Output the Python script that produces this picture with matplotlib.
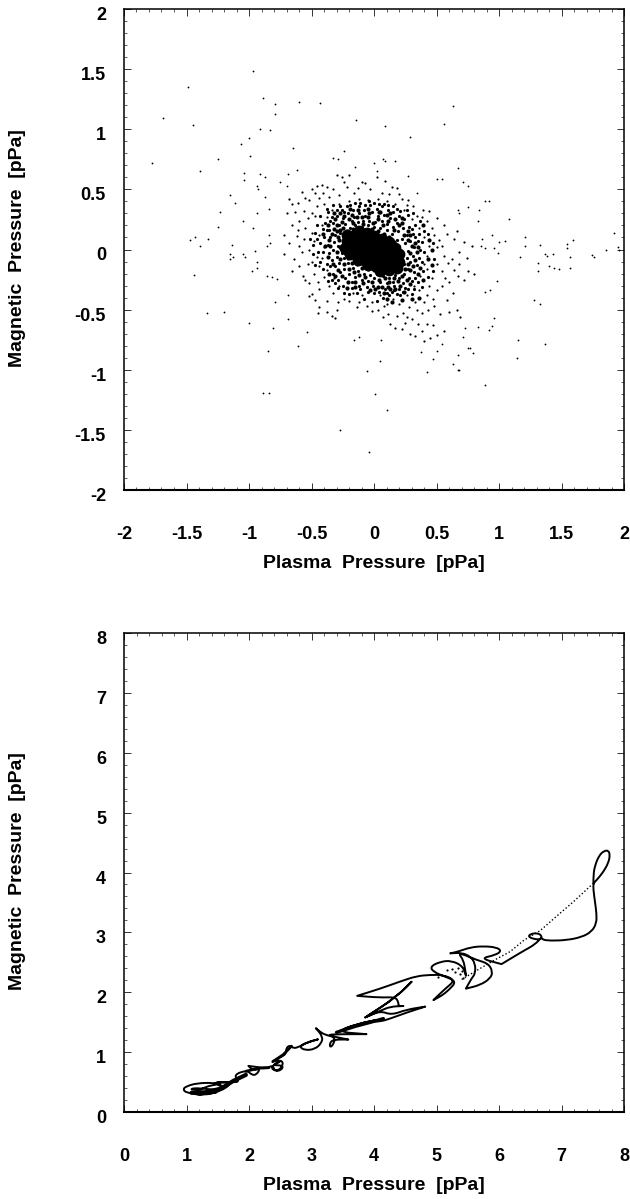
import matplotlib
matplotlib.use('Agg')
import matplotlib.pyplot as plt
from matplotlib.path import Path
from matplotlib.patches import PathPatch
from matplotlib.ticker import MultipleLocator
from matplotlib.transforms import ScaledTranslation

# scatter panel (plasma, magnetic) in pPa
outer_points = [
 (-.965,1.487),(-1.486,1.348),(-1.688,1.09),(-1.447,1.037),(-1.775,.723),(-.89,1.256),(-.79,1.21),(-.795,1.126),
 (-.6,1.23),(-.435,1.22),(-.143,1.08),(.628,1.194),(.557,1.04),(.09,1.03),(.284,.936),(-.91,1.0),(-.83,.99),
 (-1.0,.93),(-1.065,.874),(-.99,.776),(-.65,.844),(-1.245,.75),(-1.39,.65),(.024,.652),(.09,.74),(.07,.755),
 (.17,.74),(0,.72),(-.15,.69),(-.24,.815),(-.33,.76),(-.29,.75),(.67,.675),(.275,.61),(.506,.59),(.54,.59),
 (.715,.56),(.75,.53),(.345,.47),(.89,.40),(.92,.40),(.75,.355),(.67,.33),(.68,.305),(.84,.33),(.83,.24),(1.08,.25),
 (1.92,.14),(1.59,.08),(1.54,.045),(1.54,.01),(1.57,-.06),(1.74,-.045),(1.76,-.065),(1.855,0),(1.95,.02),(1.96,0),
 (1.33,.04),(1.21,.1),(1.21,.03),(1.37,-.04),(1.38,-.05),(1.43,-.035),(1.165,-.065),(1.31,-.11),(1.31,-.18),
 (1.4,-.14),(1.44,-.15),(1.48,-.165),(1.57,-.155),(1.05,.07),(1.0,.06),(.94,.12),(.86,.09),(.855,.03),(.89,.015),
 (.96,.015),(.99,-.03),(.98,-.26),(.93,-.34),(.89,-.355),(.96,-.57),(.94,-.64),(.92,-.67),(.83,-.645),(.73,-.65),
 (.715,-.73),(.75,-.815),(.77,-.82),(.79,-.86),(1.15,-.75),(1.14,-.9),(1.37,-.785),(1.28,-.42),(1.33,-.45),
 (.89,-1.125),(.67,-.88),(.635,-.95),(.67,-1.0),(.68,-1.0),(.42,-1.02),(.47,-.91),(.54,-.785),(.5,-.845),(.375,-.85),
 (.05,-.93),(-.06,-1.01),(.01,-1.2),(.105,-1.335),(-.27,-1.5),(-.04,-1.68),(-.89,-1.19),(-.84,-1.19),(-.85,-.84),
 (-.61,-.805),(-.16,-.755),(-.12,-.725),(.055,-.755),(-.54,-.69),(-.805,-.65),(-1.0,-.61),(-1.2,-.52),(-1.34,-.525),
 (-.69,-.58),(-1.44,-.21),(-1.475,.075),(-1.43,.105),(-1.39,.03),(-1.33,.085),(-1.14,.04),(-1.15,-.04),(-1.15,-.08),
 (-1.13,-.06),(-1.05,-.04),(-1.03,-.06),(-.98,-.18),(-.94,-.1),(-.95,-.01),(-.94,-.15),(-.86,-.22),(-.82,-.23),
 (-.78,-.245),(-.795,-.435),(-.69,-.38),(-1.25,.19),(-1.23,.31),(-1.11,.385),(-1.15,.45),(-1.05,.24),(-.97,.18),
 (-.87,.435),(-.93,.5),(-.875,.6),(-.91,.63),(-1.04,.64),(-1.04,.58),(-.94,.53),(-.84,.34),(-.94,.3),(-.84,.12),
 (-.86,.03),(-.83,.05),(-.69,.63),(-.62,.66),(-.75,.56),(-.7,.53),
]

mid_points = [
 (-.68,.42),(-.66,.38),(-.7,.3),(-.63,.31),(-.6,.24),(-.66,.2),(-.72,.12),(-.62,.11),(-.68,.05),(-.6,.03),
 (-.72,-.04),(-.64,-.08),(-.58,-.02),(-.6,-.14),(-.66,-.18),(-.57,-.22),(-.52,-.28),(-.45,-.27),(-.44,-.33),(-.5,-.37),
 (-.52,-.39),(-.44,-.48),(-.45,-.53),(-.38,-.52),(-.34,-.55),(-.31,-.57),(-.3,-.5),(-.58,.48),(-.55,.43),(-.5,.5),
 (-.46,.53),(-.42,.54),(-.38,.52),(-.33,.5),(-.3,.62),(-.26,.6),(-.2,.62),(-.28,.45),(-.22,.52),(-.16,.47),
 (-.1,.56),(-.07,.55),(-.03,.5),(.02,.6),(.06,.47),(.14,.52),(.18,.51),(.22,.42),(.27,.41),(.31,.36),
 (-.52,.41),(-.46,.36),(-.44,.43),(-.36,.44),(-.4,.38),(-.5,.3),(-.53,.26),(-.47,.28),(-.55,.18),(-.5,.14),
 (-.56,.09),(-.48,.07),(-.52,0),(-.46,-.06),(-.5,-.1),(-.44,-.14),(-.48,-.2),(-.4,-.23),(-.36,-.3),(-.33,-.36),
 (-.24,-.41),(-.2,-.43),(-.14,-.48),(-.06,-.47),(-.02,-.51),(.03,-.5),(.07,-.56),(.11,-.54),(.13,-.62),(.17,-.65),
 (.22,-.66),(.25,-.61),(.3,-.58),(.35,-.62),(.33,-.72),(.29,-.7),(.38,-.68),(.42,-.62),(.47,-.63),(.4,-.76),
 (.45,-.74),(.5,-.71),(.56,-.68),(.23,-.53),(.28,-.48),(.33,-.44),(.38,-.53),(.43,-.5),(.48,-.47),(.53,-.54),
 (.6,-.52),(.66,-.5),(.69,-.56),(.58,-.42),(.63,-.36),(.54,-.3),(.6,-.27),(.67,-.22),(.72,-.25),(.75,-.18),
 (.8,-.2),(.68,-.12),(.74,-.07),(.62,-.08),(.68,-.02),(.78,.03),(.72,.06),(.64,.09),(.58,.13),(.66,.15),
 (.56,.2),(.5,.26),(.44,.32),(.39,.33),(.34,.28),(.42,.24),(.46,.18),(.52,.08),(.5,.02),(.56,-.05),
 (.5,-.12),(.54,-.18),(.46,-.24),(.5,-.34),(.42,-.38),(.44,-.3),(.36,-.34),(.32,-.3),(.37,-.22),(.42,-.16),
 (.2,-.45),(.15,-.41),(.1,-.45),(.26,-.38),(.05,-.38),(-.1,-.38),(-.17,-.36),(-.28,-.3),(-.32,-.24),(-.38,-.17),
 (-.42,-.07),(-.4,.02),(-.44,.12),(-.42,.2),(-.38,.27),(-.34,.33),(-.28,.38),(-.2,.4),(-.12,.42),(-.05,.41),
 (.03,.42),(.1,.4),(.17,.38),(.24,.33),(.3,.25),(.36,.18),(.4,.1),(.44,.03),(.42,-.05),(.4,-.12),
 (-.56,.32),(-.61,.39),(-.47,.47),(-.41,.47),(-.24,.56),(-.13,.51),(.09,.57),(.12,.46),(.2,.46),(.26,.37),
 (.38,.27),(.48,.12),(.54,.03),(.59,-.11),(.64,-.17),(.57,-.24),(.47,-.41),(.4,-.44),(.34,-.5),(.26,-.56),
 (.18,-.55),(.08,-.47),(-.02,-.44),(-.12,-.44),(-.29,-.44),(-.38,-.43),(-.47,-.42),(-.55,-.25),(-.53,-.12),(-.61,.16),
]

inner_points = [
 (-.36,.16),(-.33,.22),(-.3,.28),(-.26,.33),(-.22,.36),(-.17,.33),(-.12,.36),(-.08,.33),(-.03,.37),(.02,.34),
 (.06,.36),(.11,.33),(.15,.31),(.2,.28),(.24,.25),(.28,.19),(.31,.13),(.35,.07),(.37,.0),(.36,-.07),
 (.34,-.13),(.32,-.19),(.28,-.24),(.23,-.28),(.2,-.33),(.14,-.35),(.09,-.33),(.04,-.35),(-.01,-.3),(-.06,-.31),
 (-.12,-.3),(-.18,-.27),(-.23,-.24),(-.27,-.19),(-.31,-.14),(-.34,-.09),(-.36,-.03),(-.37,.04),(-.35,.1),(-.32,.06),
 (-.33,.0),(-.3,-.06),(-.28,-.11),(-.24,-.16),(-.2,-.2),(-.15,-.23),(-.1,-.25),(-.05,-.26),(.0,-.24),(.05,-.27),
 (.1,-.28),(.15,-.27),(.2,-.24),(.24,-.2),(.27,-.16),(.29,-.1),(.31,-.05),(.32,.02),(.29,.07),(.26,.12),
 (.23,.18),(.18,.22),(.13,.26),(.08,.29),(.03,.28),(-.02,.31),(-.07,.28),(-.12,.3),(-.16,.27),(-.21,.3),
 (-.25,.26),(-.28,.2),(-.31,.12),(-.29,.03),(-.26,-.03),(-.25,.07),(-.27,.14),(-.23,.21),(-.18,.24),(-.13,.23),
 (-.09,.24),(-.04,.24),(.01,.23),(.06,.24),(.1,.21),(.15,.19),(.19,.15),(.22,.09),(.25,.05),(.27,-.01),
 (.26,-.07),(.24,-.12),(.21,-.17),(.17,-.21),(.12,-.24),(.07,-.22),(.02,-.2),(-.03,-.21),(-.08,-.2),(-.13,-.18),
 (-.17,-.15),(-.21,-.11),(-.24,-.07),(-.22,-.01),(-.21,.05),(-.22,.12),(-.19,.18),(-.15,.2),(-.1,.19),(-.05,.2),
 (.0,.19),(.05,.18),(.1,.16),(.14,.13),(.18,.08),(.2,.03),(.22,-.03),(.21,-.09),(.18,-.13),(.14,-.17),
 (.09,-.19),(-.35,.24),(-.4,.1),(-.38,-.12),(-.33,-.2),(-.29,-.25),(-.25,-.3),(-.18,-.32),(-.11,-.33),(.0,-.36),
 (.07,-.4),(.12,-.38),(.18,-.37),(.25,-.32),(.3,-.26),(.35,-.27),(.38,-.1),(.4,-.02),(.38,.06),(.33,.2),
 (.27,.29),(.21,.32),(.15,.36),(.08,.38),(.0,.39),(-.07,.37),(-.15,.39),(-.24,.31),(-.3,.33),(-.37,.31),
 (-.34,.27),(-.39,.22),(-.43,.05),(-.41,-.02),(-.45,-.02),(-.34,-.25),(-.29,-.32),(-.2,-.37),(-.08,-.41),(.02,-.43),
 (.16,-.3),(.21,-.38),(.27,-.33),(.3,-.37),(.33,-.24),(.39,-.18),(.33,.1),(.3,.17),(.36,.13),(.4,.15),
 (-.41,.17),(-.38,.16),(-.46,.2),(-.46,.09),(-.49,.04),(-.43,-.1),(-.41,-.16),(-.35,-.14),(-.37,-.26),(-.31,-.28),
 (-.24,-.36),(-.14,-.36),(-.05,-.35),(.1,-.36),(.16,-.34),(.23,-.35),(.32,-.33),(.38,-.31),(.43,-.23),(.47,-.18),
 (.48,-.08),(.47,.05),(.43,.13),(.37,.24),(.31,.3),(.26,.33),(.18,.34),(.11,.37),(.04,.38),(-.04,.4),
 (-.11,.39),(-.19,.37),(-.27,.36),(-.33,.37),(-.38,.34),(-.43,.28),(-.47,.14),(-.51,.09),(-.49,-.04),(-.47,-.13),
]

halo_points = [
 (-.27,.16),(-.25,.18),(-.29,.1),(-.32,.17),(-.3,.2),(-.26,.23),(-.2,.25),(-.17,.22),(-.14,.27),(-.09,.21),
 (-.05,.27),(-.01,.22),(.03,.25),(.07,.2),(.11,.24),(.16,.16),(.2,.2),(.24,.12),(.27,.08),(.3,.03),
 (.29,-.03),(.27,-.12),(.29,-.17),(.25,-.16),(.22,-.22),(.19,-.26),(.16,-.24),(.12,-.27),(.09,-.24),(.04,-.25),
 (-.02,-.27),(-.07,-.23),(-.12,-.21),(-.16,-.19),(-.2,-.16),(-.24,-.12),(-.27,-.08),(-.3,-.02),(-.27,.02),(-.28,.08),
 (-.24,.03),(-.23,-.03),(-.21,-.07),(-.18,-.11),(-.22,.15),(-.17,.17),(-.12,.17),(-.07,.16),(-.02,.17),(.03,.15),
 (.08,.13),(.12,.1),(.16,.06),(.18,.01),(.19,-.05),(.2,-.11),(.16,-.16),(.11,-.19),(.06,-.18),(.0,-.17),
 (-.05,-.16),(-.1,-.15),(-.14,-.12),(-.31,.25),(-.24,.28),(-.18,.29),(-.1,.27),(-.04,.3),(.05,.31),(.1,.29),
 (.17,.25),(.22,.22),(.27,.15),(.33,.05),(.34,-.02),(.33,-.09),(.31,-.14),(.26,-.25),(.21,-.3),(.17,-.33),
 (.11,-.31),(.06,-.31),(.01,-.33),(-.03,-.34),(-.09,-.28),(-.15,-.27),(-.21,-.27),(-.26,-.22),(-.29,-.17),(-.33,-.12),
 (-.37,-.06),(-.35,.03),(-.34,.13),(-.3,.15),(-.36,.08),(-.39,.03),(-.41,.13),(-.37,.2),(-.32,.3),(-.27,.3),
 (-.19,.34),(-.13,.33),(-.05,.34),(.04,.31),(.13,.3),(.22,.26),(.29,.12),(.35,.02),(.37,-.15),(.35,-.2),
 (.29,-.29),(.24,-.35),(.13,-.33),(.03,-.31),(-.15,-.31),(-.22,-.32),(-.31,-.22),(-.36,-.2),(.08,-.36),(.1,-.41),
 (.14,-.44),(.22,-.42),(.3,-.41),(.36,-.4),(.39,-.25),(.43,-.08),(.46,.0),(.46,-.13),(.44,.08),(.39,.2),
]

core_points = [
 (-.17,.11),(-.11,.11),(-.05,.1),(-.19,.06),(-.13,.06),(-.07,.06),(-.01,.06),(.04,.05),
 (-.19,.01),(-.13,.01),(-.07,.01),(-.01,.01),(.05,.01),(.1,.0),(-.15,-.04),(-.09,-.04),(-.03,-.04),(.03,-.04),(.09,-.04),(.14,-.04),
 (-.08,-.09),(-.02,-.09),(.04,-.09),(.1,-.09),(.15,-.09),(.0,-.13),(.06,-.14),(.11,-.13),
 (-.22,.12),(-.22,.07),(-.23,.01),(-.12,.15),(-.06,.14),(.0,.11),(.06,.09),(.12,.06),(.17,.01),(.2,-.04),
 (.2,-.1),(.18,-.15),(.12,-.17),(.05,-.18),(-.05,-.13),(-.13,-.09),(-.19,-.04),
]

# trajectory panel, solid part of the curve (plasma, magnetic) in pPa
track_x = [7.51,7.51,7.536,7.605,7.68,7.75,7.776,7.75,7.67,7.56,7.51,7.51,7.536,7.56,7.56,7.48,7.32,7.08,6.82,6.68,6.68,6.6,6.5,6.47,
 6.55,6.66,6.68,6.58,6.39,6.04,6.04,5.7,5.94,6.04,5.96,5.75,5.54,5.35,5.22,5.22,5.4,5.54,5.62,5.62,5.56,5.47,5.47,5.7,5.86,5.9,5.83,5.64,
 5.46,5.35,5.43,5.46,5.48,5.43,5.24,5.06,4.9,4.95,5.14,5.32,5.2,5.08,4.95,4.95,5.14,5.3,5.11,4.9,4.68,4.42,4.1,3.73,3.73,4.1,4.34,4.39,4.39,4.47,4.47,
 4.26,4.1,3.86,3.86,4.36,4.68,4.36,3.86,3.86,4.1,4.28,4.52,4.82,4.82,4.52,4.26,4.1,3.94,3.62,3.376,3.72,4.15,3.72,3.4,3.88,3.88,3.48,3.216,3.59,3.59,3.35,
 3.29,3.3,3.36,3.376,3.216,3.136,3.07,3.07,3.18,3.16,3.056,2.896,2.805,2.92,3.16,2.92,2.805,2.71,2.656,2.59,2.6,2.52,2.416,2.36,2.52,2.55,2.47,
 2.38,2.36,2.55,2.36,2.55,2.52,2.416,2.38,2.28,1.99,1.99,2.07,2.18,2.12,2.04,1.97,1.75,1.856,1.7,1.616,1.43,1.616,1.43,1.16,1.0,.94,1.0,1.16,1.43,
 1.56,1.616,1.48,1.27,1.11,1.06,1.27,1.06,1.27,1.54,1.75,1.376,1.6,1.27,1.11,1.376,1.6]
track_y = [3.82,3.96,4.12,4.29,4.36,4.37,4.29,4.16,4.01,3.87,3.82,3.71,3.51,3.32,3.15,3.01,2.92,2.87,2.86,2.88,2.955,2.99,2.97,2.93,
 2.89,2.88,2.92,2.8,2.69,2.47,2.47,2.565,2.62,2.69,2.75,2.77,2.75,2.68,2.65,2.65,2.66,2.6,2.48,2.31,2.23,2.06,2.06,2.12,2.23,2.34,2.48,2.54,
 2.62,2.65,2.54,2.37,2.23,2.43,2.53,2.51,2.43,2.34,2.26,2.18,2.04,1.94,1.87,1.87,2.06,2.2,2.29,2.29,2.27,2.18,2.06,1.94,1.94,1.91,1.92,1.84,1.77,1.77,1.77,
 1.76,1.69,1.58,1.58,1.92,2.26,1.92,1.58,1.58,1.69,1.62,1.71,1.76,1.76,1.66,1.56,1.51,1.51,1.41,1.325,1.47,1.56,1.47,1.34,1.3,1.3,1.3,1.29,1.21,1.21,1.21,
 1.15,1.07,1.15,1.25,1.29,1.34,1.4,1.4,1.26,1.15,1.05,1.03,1.09,1.16,1.23,1.16,1.09,1.06,1.12,1.06,.98,.92,.87,.84,.87,.785,.69,
 .7,.77,.87,.78,.78,.7,.68,.78,.73,.77,.77,.69,.73,.62,.62,.7,.62,.5,.5,.5,.5,.39,.34,.31,.32,.38,.43,.48,.49,
 .45,.39,.37,.39,.4,.37,.37,.31,.28,.34,.5,.48,.48,.42,.28,.31,.35]

# stretches where the loops overlap so tightly that the ink runs together
ink_x = [[1.08,1.3,1.55,1.75,1.95],[3.4,3.7,3.95,4.15],[1.95,2.15,2.32],[2.38,2.55,2.68]]
ink_y = [[.32,.33,.39,.52,.62],[1.33,1.43,1.5,1.56],[.68,.73,.74],[.84,.96,1.1]]
ink_lw = [3.0, 2.4, 2.0, 2.0]

# dotted part of the curve
dotted_x = [7.51,7.2,6.9,6.66,6.4,6.18,5.95,5.8,5.38]
dotted_y = [3.82,3.52,3.25,3.03,2.87,2.68,2.55,2.46,2.2]
dots_x = [5.03,5.16,5.25,5.34,5.38,5.4,5.43,5.3]
dots_y = [2.25,2.37,2.38,2.4,2.3,2.36,2.24,2.33]

top_ticks = [-2, -1.5, -1, -0.5, 0, 0.5, 1, 1.5, 2]
top_labels = ['-2', '-1.5', '-1', '-0.5', '0', '0.5', '1', '1.5', '2']
bottom_ticks = [0, 1, 2, 3, 4, 5, 6, 7, 8]
xlabel_text = 'Plasma  Pressure  [pPa]'
ylabel_text = 'Magnetic  Pressure  [pPa]'

plt.rcParams['font.family'] = ['Liberation Sans', 'DejaVu Sans']
plt.rcParams['font.weight'] = 'bold'

W, H = 630.0, 1199.0


def setup_axes(ax, ticks, labels, minor):
    ax.set_xticks(ticks)
    ax.set_yticks(ticks)
    ax.set_xticklabels(labels)
    ax.set_yticklabels(labels)
    ax.xaxis.set_minor_locator(MultipleLocator(minor))
    ax.yaxis.set_minor_locator(MultipleLocator(minor))
    ax.tick_params(which='major', direction='in', top=True, right=True, length=5, width=0.7, color='#333333', labelsize=13)
    ax.tick_params(which='minor', direction='in', top=True, right=True, length=2.5, width=0.6, color='#444444')
    ax.tick_params(axis='x', which='major', pad=26)
    ax.tick_params(axis='y', which='major', pad=13)
    for s in ax.spines.values():
        s.set_linewidth(1.1)
    ax.spines['bottom'].set_linewidth(1.5)
    ax.set_xlabel(xlabel_text, fontsize=14, fontweight='bold')
    ax.xaxis.set_label_coords(0.5, -74 / ax.bbox.height, transform=ax.transAxes)
    ax.xaxis.label.set_verticalalignment('center')
    ax.set_ylabel(ylabel_text, fontsize=14, fontweight='bold')
    ax.yaxis.set_label_coords(-106 / ax.bbox.width, 0.503, transform=ax.transAxes)
    ax.yaxis.label.set_verticalalignment('center')
    for lab in ax.get_yticklabels():
        lab.set_transform(lab.get_transform() + ScaledTranslation(0, -4.5 / 100, ax.figure.dpi_scale_trans))


fig = plt.figure(figsize=(W / 100, H / 100), dpi=100)
ax1 = fig.add_axes([124 / W, 1 - 490 / H, 500 / W, 481 / H])
ax2 = fig.add_axes([124 / W, 1 - 1112 / H, 500 / W, 479 / H])

for pts, ms in [(outer_points, 1.3), (mid_points, 1.6), (inner_points, 2.3), (halo_points, 3.0), (core_points, 8.5)]:
    ax1.plot([p[0] for p in pts], [p[1] for p in pts], linestyle='none', marker='o', ms=ms, mec='none', color='k')
ax1.set_xlim(-2, 2)
ax1.set_ylim(-2, 2)
setup_axes(ax1, top_ticks, top_labels, 0.1)

# the read points act as quadratic control points so the curve stays round
verts = [(track_x[0], track_y[0])]
codes = [Path.MOVETO]
for i in range(1, len(track_x) - 1):
    verts.append((track_x[i], track_y[i]))
    verts.append(((track_x[i] + track_x[i + 1]) / 2, (track_y[i] + track_y[i + 1]) / 2))
    codes += [Path.CURVE3, Path.CURVE3]
ax2.add_patch(PathPatch(Path(verts, codes), fill=False, edgecolor='k', lw=1.4, joinstyle='round'))
for xs, ys, lw in zip(ink_x, ink_y, ink_lw):
    ax2.plot(xs, ys, color='k', lw=lw, solid_capstyle='round')
ax2.plot(dotted_x, dotted_y, color='k', lw=1.0, linestyle=(0, (1, 1.6)))
ax2.plot(dots_x, dots_y, linestyle='none', marker='o', ms=1.6, mec='none', color='k')
ax2.set_xlim(0, 8)
ax2.set_ylim(0, 8)
setup_axes(ax2, bottom_ticks, [str(t) for t in bottom_ticks], 0.2)

fig.savefig('out.png', dpi=100)
